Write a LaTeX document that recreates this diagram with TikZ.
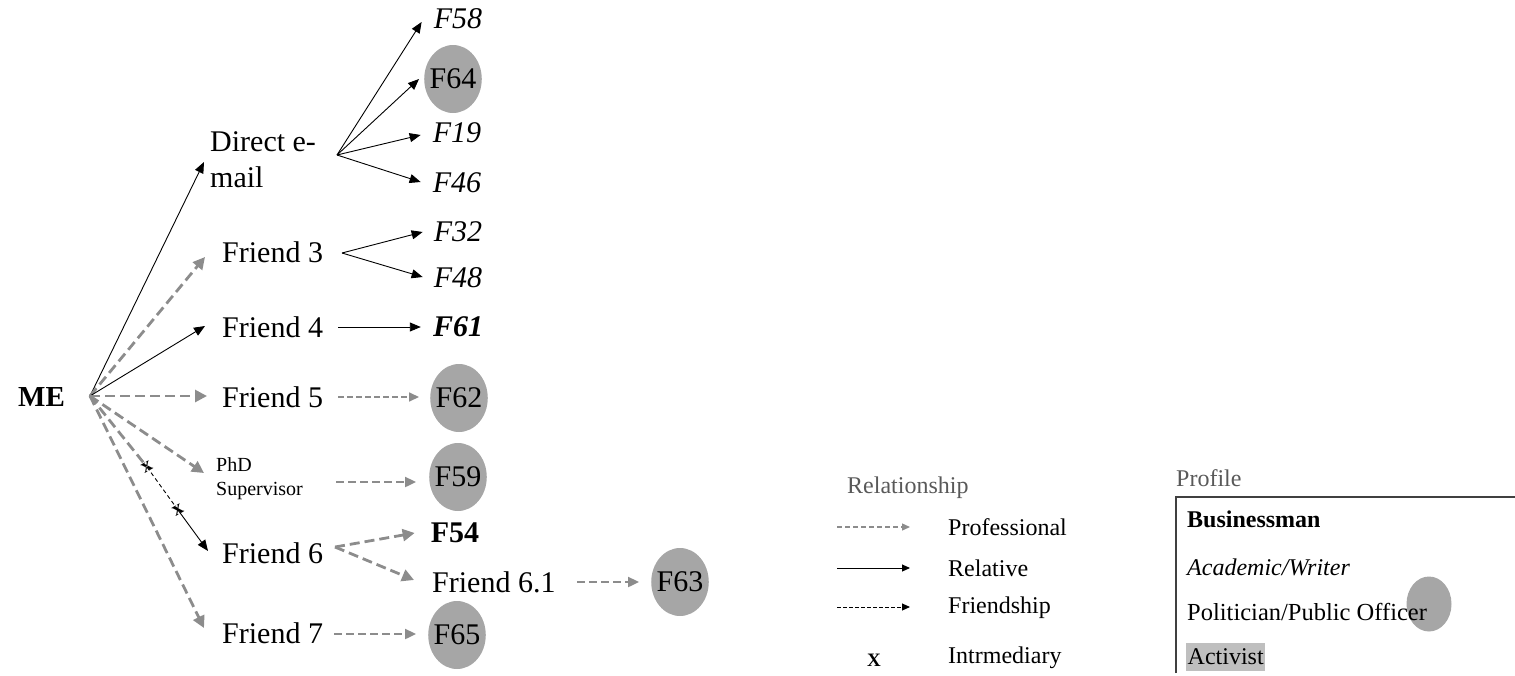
\documentclass[tikz,border=0pt]{standalone}
\usepackage{fontspec}
\setmainfont{Liberation Serif}
\usetikzlibrary{arrows.meta,shapes.geometric}
\definecolor{edgegrey}{HTML}{8C8C8C}
\definecolor{fillgrey}{HTML}{A6A6A6}
\definecolor{actgrey}{HTML}{BFBFBF}
\definecolor{legtext}{HTML}{595959}
\definecolor{boxline}{HTML}{404040}
\begin{document}
\begin{tikzpicture}[x=1pt,y=-1pt,
  big/.style={inner sep=0pt, font=\fontsize{30}{36}\selectfont},
  lbl/.style={big, anchor=west},
  it/.style={big, font=\fontsize{30}{36}\selectfont\itshape},
  prof/.style={ellipse, inner xsep=-3pt, inner ysep=0pt, fill=fillgrey, minimum width=57pt, minimum height=68pt, font=\fontsize{30}{36}\selectfont},
  leg/.style={inner sep=0pt, anchor=west, font=\fontsize{24}{28}\selectfont},
  rel/.style={draw=black, line width=0.9pt, -{Triangle[length=11pt,width=9pt]}},
  profthick/.style={draw=edgegrey, line width=2.8pt, dash pattern=on 10pt off 5pt, -{Triangle[length=12pt,width=12pt]}},
  profmid/.style={draw=edgegrey, line width=2.2pt, dash pattern=on 8pt off 4pt, -{Triangle[length=11pt,width=10pt]}},
  profthin/.style={draw=edgegrey, line width=1.6pt, dash pattern=on 6pt off 3pt, -{Triangle[length=10pt,width=9pt]}},
  frnd/.style={draw=black, line width=0.9pt, dash pattern=on 4pt off 3pt},
  tick/.style={inner sep=0pt, font=\bfseries\fontsize{20}{20}\selectfont}
]
\useasboundingbox (0,0) rectangle (1515,675);

% ---------- nodes ----------
\node[lbl, font=\fontsize{29}{34}\selectfont\bfseries] (me) at (18,397) {ME};
\coordinate (meo) at (90,396);

\node[lbl, align=left] (de) at (210,160) {Direct e-\\mail};
\node[lbl] (f3) at (222,252) {Friend 3};
\node[lbl] (f4) at (222,327) {Friend 4};
\node[lbl] (f5) at (222,397) {Friend 5};
\node[lbl, align=left, font=\fontsize{20}{24}\selectfont] (phd) at (216,479) {PhD\\Supervisor};
\node[lbl] (f6) at (222,553) {Friend 6};
\node[lbl] (f61) at (432,582) {Friend 6.1};
\node[lbl] (f7) at (222,633) {Friend 7};

\node[it] (F58) at (458,19) {F58};
\node[prof] (F64) at (453,79) {F64};
\node[it] (F19) at (457,133) {F19};
\node[it] (F46) at (457,183) {F46};
\node[it] (F32) at (458,232) {F32};
\node[it] (F48) at (458,278) {F48};
\node[big, font=\fontsize{30}{36}\selectfont\bfseries\itshape] (F61) at (458,327) {F61};
\node[prof] (F62) at (459,398) {F62};
\node[prof] (F59) at (458,477) {F59};
\node[big, font=\fontsize{30}{36}\selectfont\bfseries] (F54) at (455,533) {F54};
\node[prof] (F63) at (680,582) {F63};
\node[prof] (F65) at (457,635) {F65};

% connector points
\coordinate (de-in) at (204,162);
\coordinate (de-out) at (337,155);
\coordinate (f3-in) at (205,257);
\coordinate (f3-out) at (342,253);
\coordinate (f4-in) at (205,326);
\coordinate (f4-out) at (338,327);
\coordinate (f5-in) at (207,396);
\coordinate (f5-out) at (338,397);
\coordinate (phd-in) at (204,473);
\coordinate (phd-out) at (336,482);
\coordinate (f6-in) at (208,551);
\coordinate (f6-out) at (335,547);
\coordinate (f61-in) at (414,580);
\coordinate (f61-out) at (577,582);
\coordinate (f7-in) at (204,628);
\coordinate (f7-out) at (334,634);

\node[tick, rotate=30] (x1) at (147,467) {x};
\node[tick, rotate=30] (x2) at (178,510) {x};

% ---------- connectors ----------
\draw[rel] (meo) -- (de-in);
\draw[profthick] (meo) -- (f3-in);
\draw[rel] (meo) -- (f4-in);
\draw[profthick] (meo) -- (f5-in);
\draw[profthick] (meo) -- (phd-in);
\draw[profthick, -] (meo) -- (x1.center);
\draw[frnd] (x1.center) -- (x2.center);
\draw[rel] (x2.center) -- (f6-in);
\draw[profthick] (meo) -- (f7-in);

\draw[rel] (de-out) -- ([xshift=-12pt,yshift=-3pt]F58.west);
\draw[rel] (de-out) -- ([xshift=-5pt]F64.west);
\draw[rel] (de-out) -- ([xshift=-12pt,yshift=-2pt]F19.west);
\draw[rel] (de-out) -- ([xshift=-12pt,yshift=1pt]F46.west);
\draw[rel] (f3-out) -- ([xshift=-11pt]F32.west);
\draw[rel] (f3-out) -- ([xshift=-11pt,yshift=1pt]F48.west);
\draw[rel] (f4-out) -- ([xshift=-12pt]F61.west);
\draw[profthin, shorten >=11pt] (f5-out) -- (f5-out -| F62.west);
\draw[profmid, shorten >=13pt] (phd-out) -- (phd-out -| F59.west);
\draw[profthick] (f6-out) -- ([xshift=-16pt]F54.west);
\draw[profthick] (f6-out) -- (f61-in);
\draw[profmid, shorten >=12pt] (f61-out) -- (f61-out -| F63.west);
\draw[profmid, shorten >=12pt] (f7-out) -- (f7-out -| F65.west);

% ---------- legend: relationship ----------
\node[leg, text=legtext] (lrel) at (847,488) {Relationship};
\coordinate (lp1) at (837,527); \coordinate (lp2) at (910,527);
\coordinate (lr1) at (837,568); \coordinate (lr2) at (910,568);
\coordinate (lf1) at (837,607); \coordinate (lf2) at (910,607);
\draw[draw=edgegrey, line width=1.3pt, dash pattern=on 5pt off 3pt, -{Triangle[length=8pt,width=7pt]}] (lp1) -- (lp2);
\draw[draw=black, line width=0.9pt, -{Triangle[length=8pt,width=7pt]}] (lr1) -- (lr2);
\draw[frnd, dash pattern=on 4pt off 2pt, -{Triangle[length=8pt,width=7pt]}] (lf1) -- (lf2);
\node[leg] (lprof) at (948,527) {Professional};
\node[leg] (lrelt) at (948,568) {Relative};
\node[leg] (lfr) at (948,608) {Friendship};
\node[inner sep=0pt, font=\bfseries\fontsize{19}{19}\selectfont] (lx) at (874,660) {X};
\node[leg] (lint) at (948,658) {Intrmediary};

% ---------- legend: profile ----------
\node[leg, text=legtext] (lprofile) at (1176,478) {Profile};
\coordinate (b1) at (1176,673); \coordinate (b2) at (1176,497); \coordinate (b3) at (1515,497);
\draw[boxline, line width=1.3pt] (b1) -- (b2) -- (b3);
\node[leg, font=\fontsize{24}{28}\selectfont\bfseries] (lbus) at (1187,519) {Businessman};
\node[leg, font=\fontsize{24}{28}\selectfont\itshape] (lacad) at (1187,567) {Academic/Writer};
\node[ellipse, fill=fillgrey, inner sep=0pt, minimum width=45pt, minimum height=55pt] (lell) at (1429,604) {};
\node[leg, font=\fontsize{24.5}{28}\selectfont] (lpol) at (1187,612) {Politician/Public Officer};
\node[leg, fill=actgrey, inner xsep=1.5pt, minimum height=28pt] (lact) at (1186,657) {Activist};
\end{tikzpicture}
\end{document}
